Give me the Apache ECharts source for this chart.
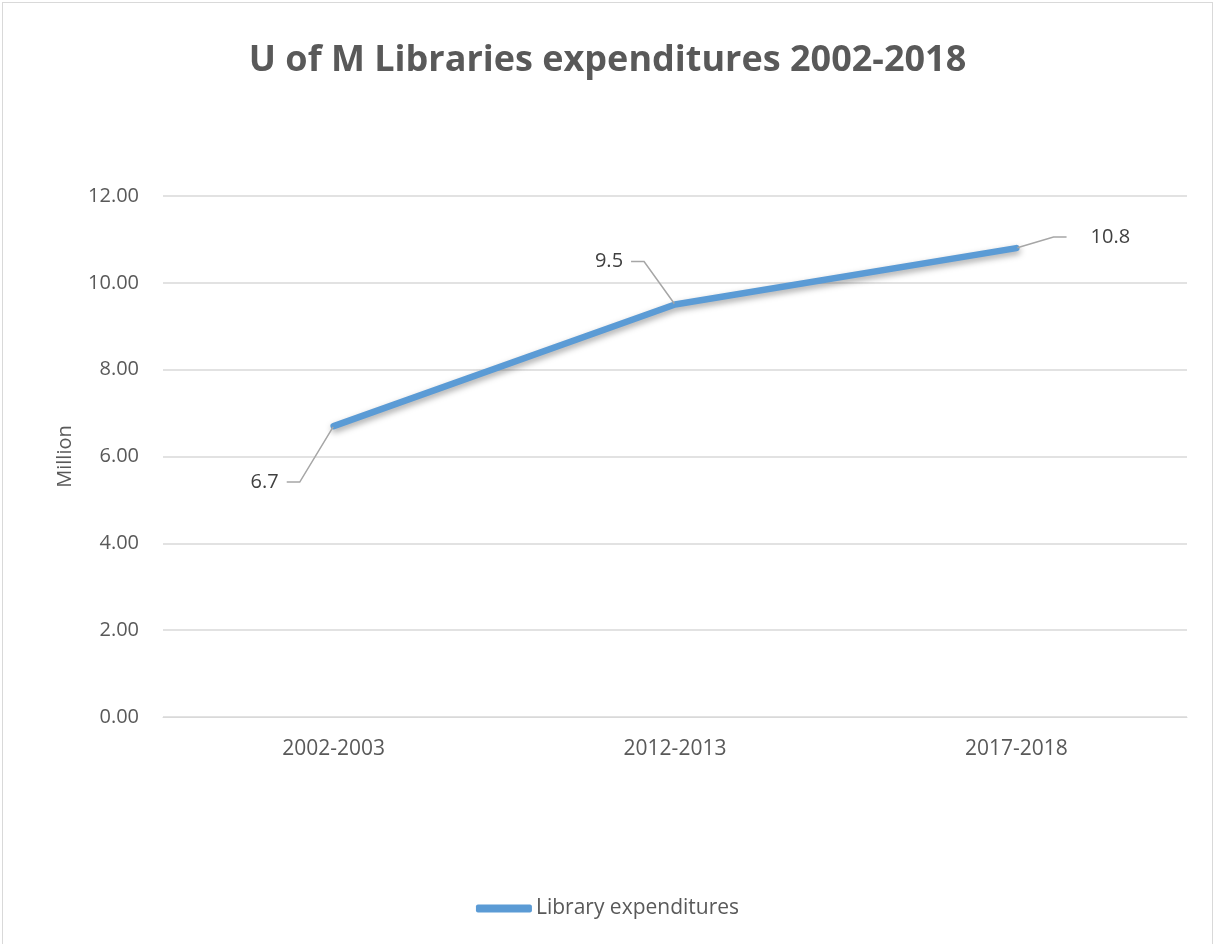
<!DOCTYPE html>
<html>
<head>
<meta charset="utf-8">
<script src="https://cdn.jsdelivr.net/npm/echarts@6/dist/echarts.min.js"></script>
<style>
html,body{margin:0;padding:0;background:#fff;}
#wrap{position:absolute;left:2px;top:2px;width:1211px;height:942px;border:1px solid #d9d9d9;border-bottom:none;box-sizing:border-box;}
#c{position:absolute;left:0;top:0;width:1215px;height:944px;}
</style>
</head>
<body>
<div id="wrap"></div>
<div id="c"></div>
<script>
const categories = ['2002-2003', '2012-2013', '2017-2018'];
const expenditures = [6.7, 9.5, 10.8];
const seriesName = 'Library expenditures';
const titleText = 'U of M Libraries expenditures 2002-2018';
const yAxisName = 'Million';

// label placement (pixel offsets from each point) and padding around label text
const labelOffsets = [[-69, 56], [-66, -43], [94, -11]];
const labelPads = [[0, 8, 0, 8], [0, 8, 0, 8], [0, 24, 0, 24]];

const chart = echarts.init(document.getElementById('c'), null, {renderer: 'canvas'});
const font = '"Open Sans", "Noto Sans", sans-serif';
chart.setOption({
  animation: false,
  backgroundColor: 'transparent',
  title: {
    text: titleText,
    left: 'center',
    top: 38,
    textStyle: {fontFamily: font, fontSize: 36, fontWeight: 'bold', color: '#595959'}
  },
  grid: {left: 163, right: 28, top: 196, bottom: 227},
  legend: {
    bottom: 20,
    left: 'center',
    itemWidth: 56,
    itemHeight: 8,
    itemGap: 10,
    icon: 'roundRect',
    textStyle: {fontFamily: font, fontSize: 21, color: '#595959', padding: [0, 0, 0, -1]},
    data: [seriesName]
  },
  xAxis: {
    type: 'category',
    data: categories,
    boundaryGap: true,
    axisLine: {show: true, lineStyle: {color: '#d9d9d9', width: 1}},
    axisTick: {show: false},
    axisLabel: {fontFamily: font, fontSize: 21, color: '#595959', margin: 22}
  },
  yAxis: {
    type: 'value',
    min: 0,
    max: 12,
    interval: 2,
    name: yAxisName,
    nameLocation: 'middle',
    nameGap: 88,
    nameRotate: 90,
    nameTextStyle: {fontFamily: font, fontSize: 20, color: '#595959'},
    axisLine: {show: false},
    axisTick: {show: false},
    splitLine: {lineStyle: {color: '#d9d9d9', width: 1.5}},
    axisLabel: {fontFamily: font, fontSize: 20, color: '#595959', margin: 24,
      formatter: v => v.toFixed(2)}
  },
  series: [{
    name: seriesName,
    type: 'line',
    data: expenditures.map((v, i) => ({
      value: v,
      label: {padding: labelPads[i], backgroundColor: 'rgba(255,255,255,0)'}
    })),
    labelLayout: params => ({
      dx: labelOffsets[params.dataIndex][0],
      dy: labelOffsets[params.dataIndex][1]
    }),
    showSymbol: true,
    symbol: 'circle',
    symbolSize: 2,
    itemStyle: {color: '#5b9bd5'},
    color: '#5b9bd5',
    lineStyle: {width: 6.5, color: '#5b9bd5', cap: 'round',
      shadowColor: 'rgba(0,0,0,0.35)', shadowBlur: 6, shadowOffsetY: 3, shadowOffsetX: 1},
    label: {
      show: true,
      position: 'inside',
      fontFamily: font,
      fontSize: 20,
      color: '#404040',
      padding: [0, 8, 0, 8],
      backgroundColor: 'rgba(255,255,255,0)'
    },
    labelLine: {show: true, length2: 13, lineStyle: {color: '#a6a6a6', width: 1.5}},
    emphasis: {disabled: true}
  }]
});
</script>
</body>
</html>
